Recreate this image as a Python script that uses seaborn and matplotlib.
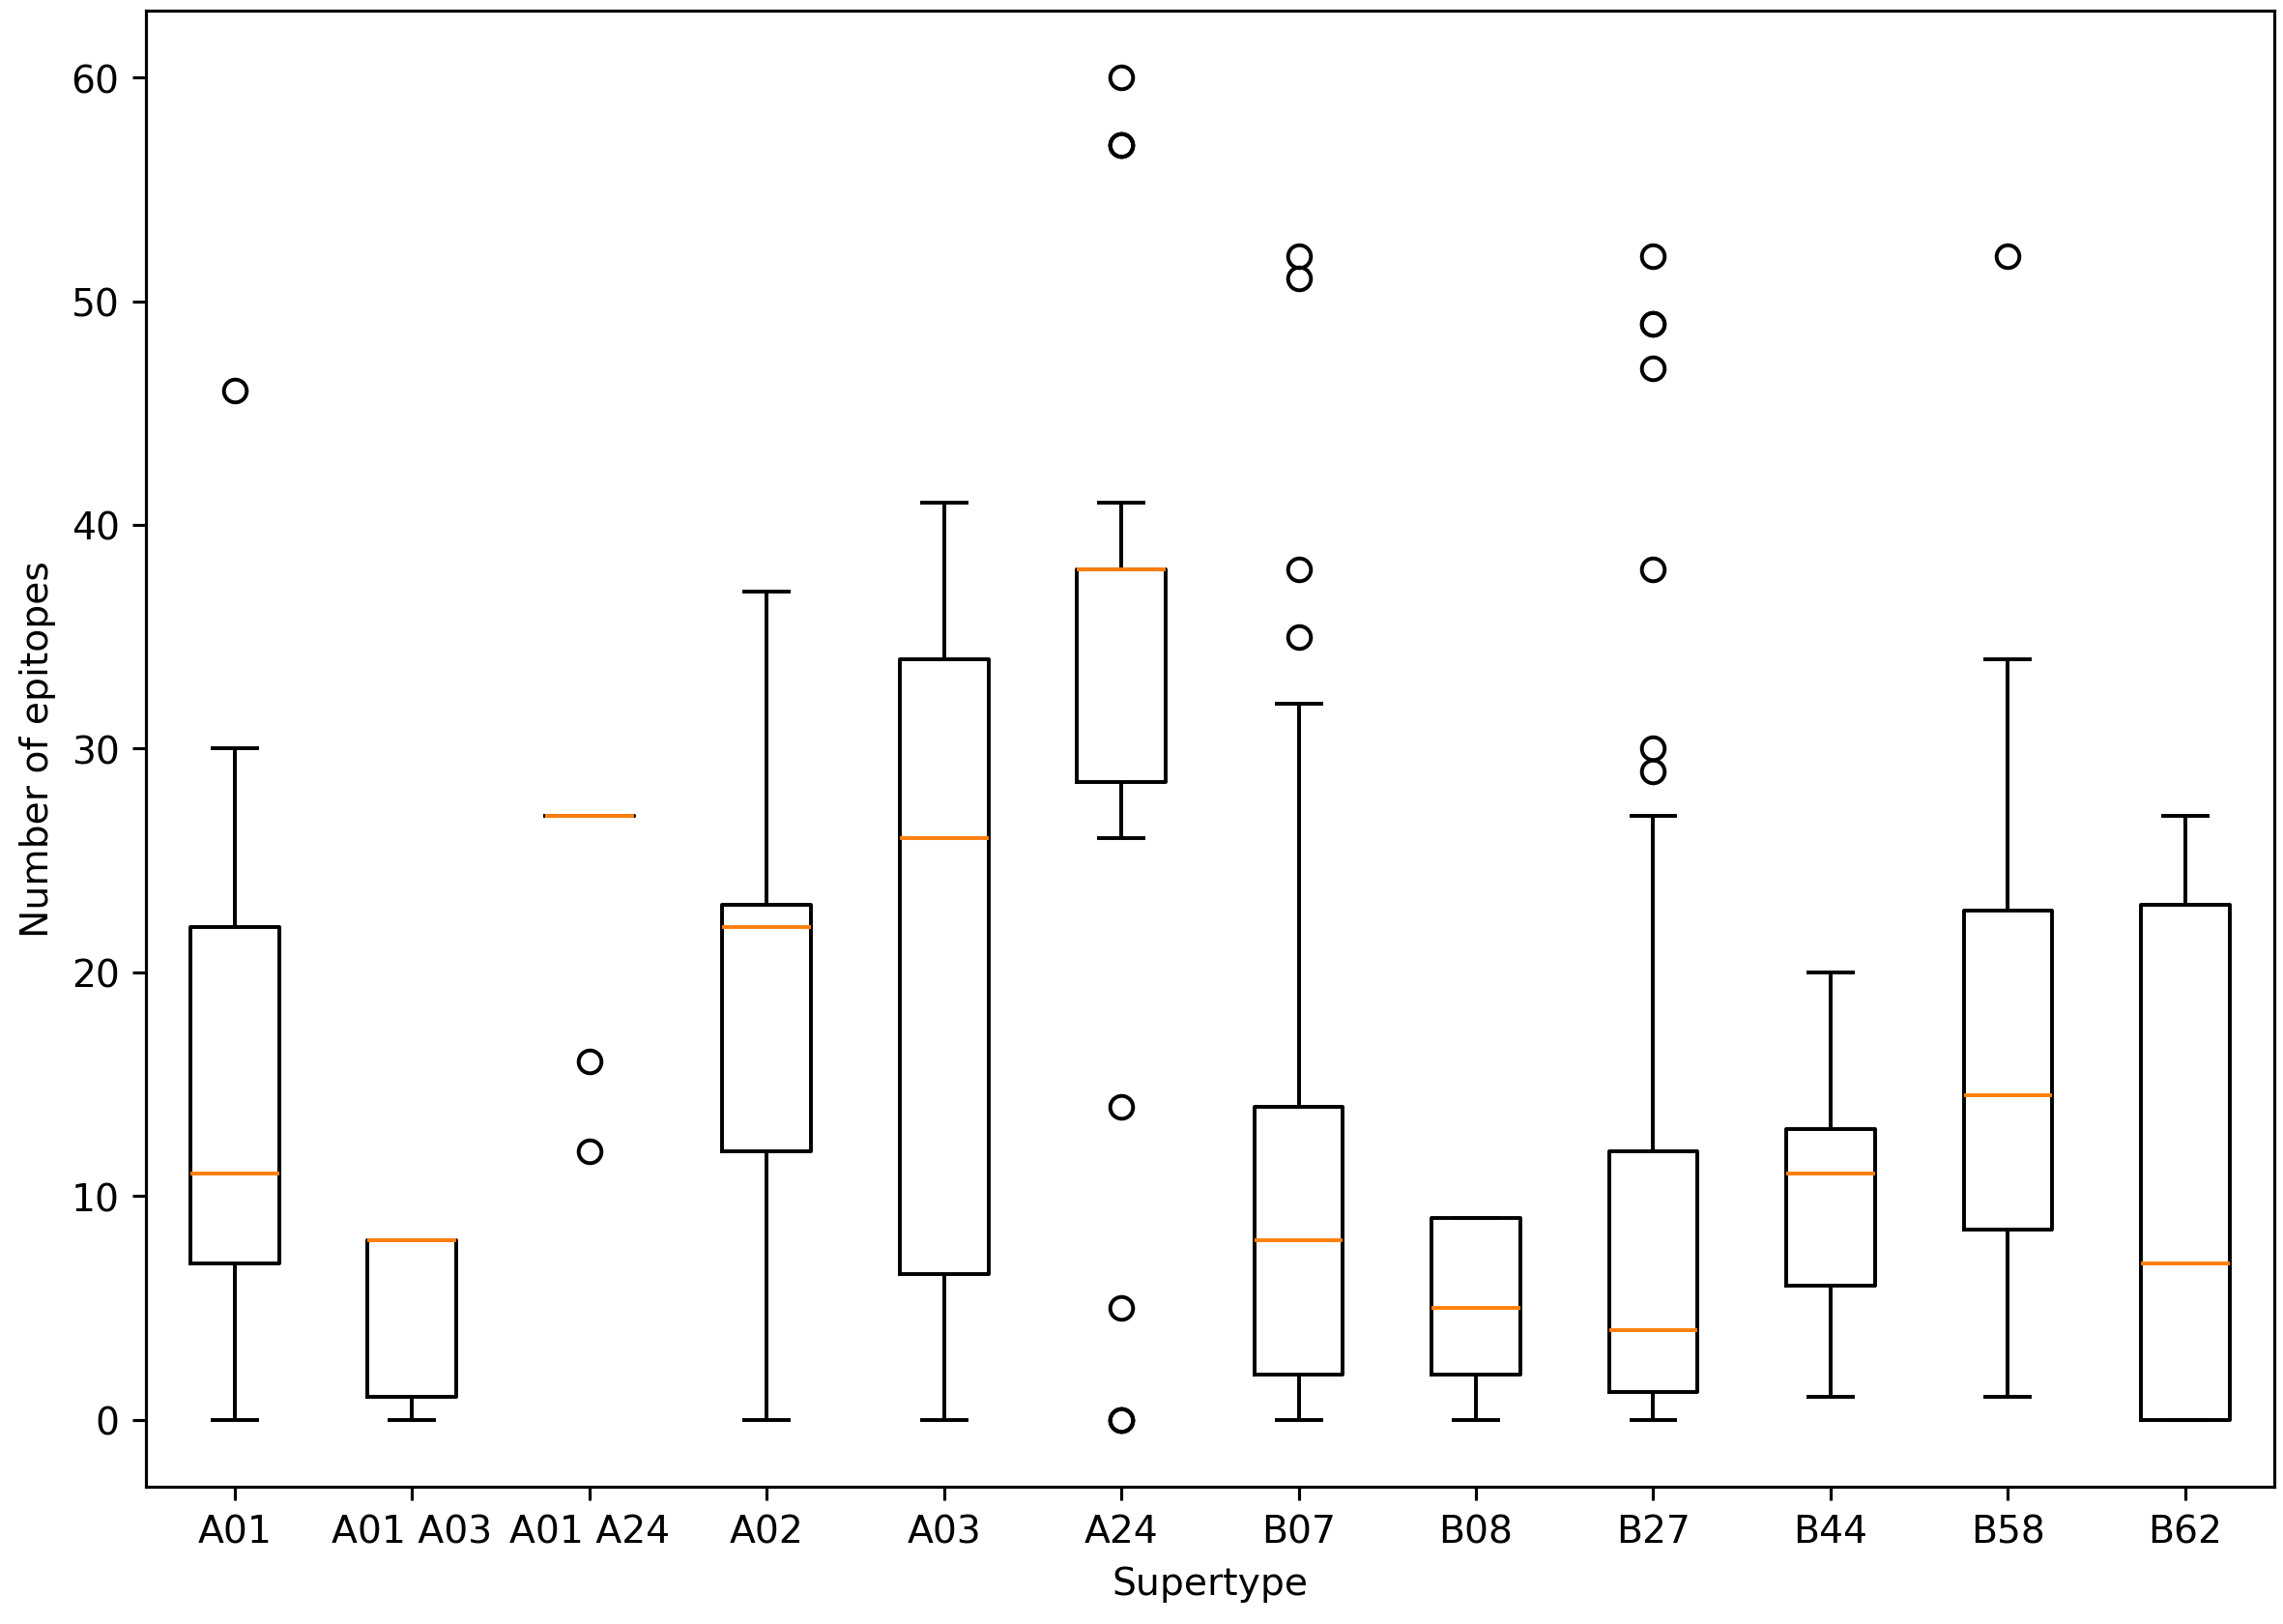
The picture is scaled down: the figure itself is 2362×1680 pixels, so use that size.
import pandas as pd
import matplotlib
matplotlib.use("Agg")
import matplotlib.pyplot as plt
import seaborn as sns

# Supertype categories
supertypes = ["A01", "A01 A03", "A01 A24", "A02", "A03", "A24",
              "B07", "B08", "B27", "B44", "B58", "B62"]

# Epitope counts per supertype
a01 = [0, 5, 7, 9, 11, 15, 22, 30, 46]
a01_a03 = [0, 1, 8, 8, 8]
a01_a24 = [12, 16, 27, 27, 27, 27, 27, 27, 27]
a02 = [0, 5, 12, 18, 22, 23, 23, 30, 37]
a03 = [0, 5, 8, 26, 34, 34, 41]
a24 = [0, 0, 0, 5, 14, 26, 31, 33, 35, 36, 37, 38,
       38, 38, 38, 38, 38, 38, 41, 57, 57, 57, 60]
b07 = [0, 0, 1, 1, 2, 2, 3, 5, 6, 7, 8, 9, 10, 12, 13, 14,
       32, 35, 38, 51, 52]
b08 = [0, 2, 5, 9, 9]
b27 = [0, 0, 0, 0, 0, 1, 1, 1, 1, 2, 2, 2, 3, 3, 3, 4, 4, 4,
       5, 6, 7, 8, 10, 11, 12, 12, 27, 29, 30, 38, 47, 49, 49, 52]
b44 = [1, 6, 11, 13, 20]
b58 = [1, 5, 8, 10, 14, 15, 22, 23, 34, 52]
b62 = [0, 0, 7, 23, 27]

groups = [a01, a01_a03, a01_a24, a02, a03, a24,
          b07, b08, b27, b44, b58, b62]

#Build long-form table
rows = []
for name, vals in zip(supertypes, groups):
    for v in vals:
        rows.append({"Supertype": name, "Number of epitopes": v})
df = pd.DataFrame(rows)

DPI = 283
fig = plt.figure(figsize=(2362 / DPI, 1681 / DPI), dpi=DPI)
ax = fig.add_axes([0.064, 0.0845, 0.932, 0.9085])

sns.boxplot(data=df, x="Supertype", y="Number of epitopes", order=supertypes,
            fill=False, color="black", linecolor="black", width=0.5,
            linewidth=1.0, whis=1.5, ax=ax,
            medianprops={"color": "#ff7f0e", "linewidth": 1.0},
            flierprops={"marker": "o", "markerfacecolor": "none",
                        "markeredgecolor": "black", "markersize": 6,
                        "markeredgewidth": 1.0})

ax.set_xlim(-0.5, len(supertypes) - 0.5)
ax.set_xlabel("Supertype")
ax.set_ylabel("Number of epitopes")

fig.savefig("out.png", dpi=DPI)
